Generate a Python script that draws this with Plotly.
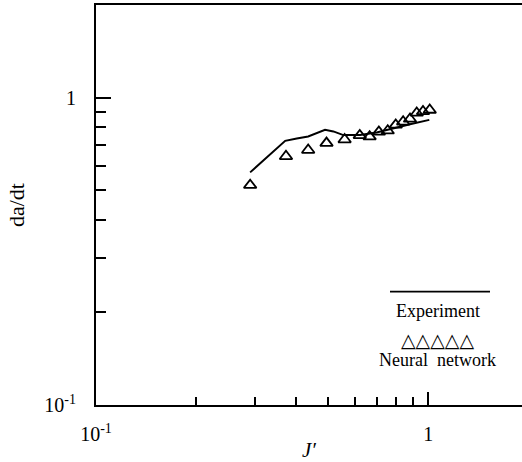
import plotly.graph_objects as go

# Experiment (solid line)
exp_x = [0.291, 0.371, 0.402, 0.435, 0.489, 0.518, 0.555, 0.623, 0.699, 0.785, 0.881, 1.007]
exp_y = [0.571, 0.723, 0.736, 0.747, 0.785, 0.776, 0.755, 0.755, 0.770, 0.795, 0.819, 0.846]

# Neural network (open triangles)
nn_x = [0.291, 0.373, 0.435, 0.494, 0.560, 0.622, 0.666, 0.710, 0.755, 0.798, 0.840, 0.881, 0.923, 0.964, 1.01]
nn_y = [0.519, 0.644, 0.675, 0.711, 0.730, 0.753, 0.746, 0.773, 0.780, 0.815, 0.834, 0.852, 0.891, 0.901, 0.911]

x_major = [0.1, 1]
x_major_text = ["10<sup>-1</sup>", "1"]
x_minor = [0.2, 0.3, 0.4, 0.5, 0.6, 0.7, 0.8, 0.9]
y_major = [0.1, 1]
y_major_text = ["10<sup>-1</sup>", "1"]
y_minor = [0.2, 0.3, 0.4, 0.5, 0.6, 0.7, 0.8, 0.9]

FONT = "Liberation Serif"

fig = go.Figure()
fig.add_trace(go.Scatter(x=exp_x, y=exp_y, mode="lines",
                         line=dict(color="black", width=2), name="Experiment"))
fig.add_trace(go.Scatter(x=nn_x, y=nn_y, mode="markers",
                         marker=dict(symbol="triangle-up-open", size=11, color="black",
                                     line=dict(width=1.8, color="black")),
                         name="Neural network"))

fig.update_layout(
    width=522, height=462,
    margin=dict(l=96, r=0, t=5, b=55),
    paper_bgcolor="white", plot_bgcolor="white",
    showlegend=False,
    font=dict(family=FONT, color="black", size=18),
)
fig.update_xaxes(
    type="log", range=[-1, 0.282],
    showline=True, linecolor="black", linewidth=2, mirror=True,
    showgrid=False, zeroline=False,
    tickmode="array", tickvals=x_major, ticktext=x_major_text,
    ticks="inside", ticklen=13, tickwidth=1.5, tickcolor="black",
    ticklabelstandoff=10,
    minor=dict(tickmode="array", tickvals=x_minor, ticks="inside", ticklen=8,
               tickwidth=1.5, tickcolor="black", showgrid=False),
    tickfont=dict(family=FONT, size=20),
    title=dict(text="<i>J′</i>", font=dict(family=FONT, size=21), standoff=2),
)
fig.update_yaxes(
    type="log", range=[-1, 0.301],
    showline=True, linecolor="black", linewidth=2, mirror=False,
    showgrid=False, zeroline=False,
    tickmode="array", tickvals=y_major, ticktext=y_major_text,
    ticks="inside", ticklen=15, tickwidth=1.5, tickcolor="black",
    ticklabelstandoff=14,
    minor=dict(tickmode="array", tickvals=y_minor, ticks="inside", ticklen=10,
               tickwidth=1.5, tickcolor="black", showgrid=False),
    tickfont=dict(family=FONT, size=20),
    title=dict(text="da/dt", font=dict(family=FONT, size=22), standoff=14),
)

# Legend drawn by hand (as in the original figure)
def px(x):
    return (x - 96) / 426

def py(y):
    return (407 - y) / 402

fig.add_shape(type="line", xref="paper", yref="paper",
              x0=px(390), x1=px(490), y0=py(293), y1=py(293),
              line=dict(color="black", width=1.8))
fig.add_annotation(xref="paper", yref="paper", x=px(438), y=py(313),
                   xanchor="center", yanchor="middle",
                   text="Experiment", showarrow=False,
                   font=dict(family=FONT, size=18, color="black"))
fig.add_annotation(xref="paper", yref="paper", x=px(437), y=py(342),
                   xanchor="center", yanchor="middle",
                   text="△△△△△", showarrow=False,
                   font=dict(family="DejaVu Sans", size=19, color="black"))
fig.add_annotation(xref="paper", yref="paper", x=px(437), y=py(362),
                   xanchor="center", yanchor="middle",
                   text="Neural  network", showarrow=False,
                   font=dict(family=FONT, size=18, color="black"))

fig.write_html("out.html")
